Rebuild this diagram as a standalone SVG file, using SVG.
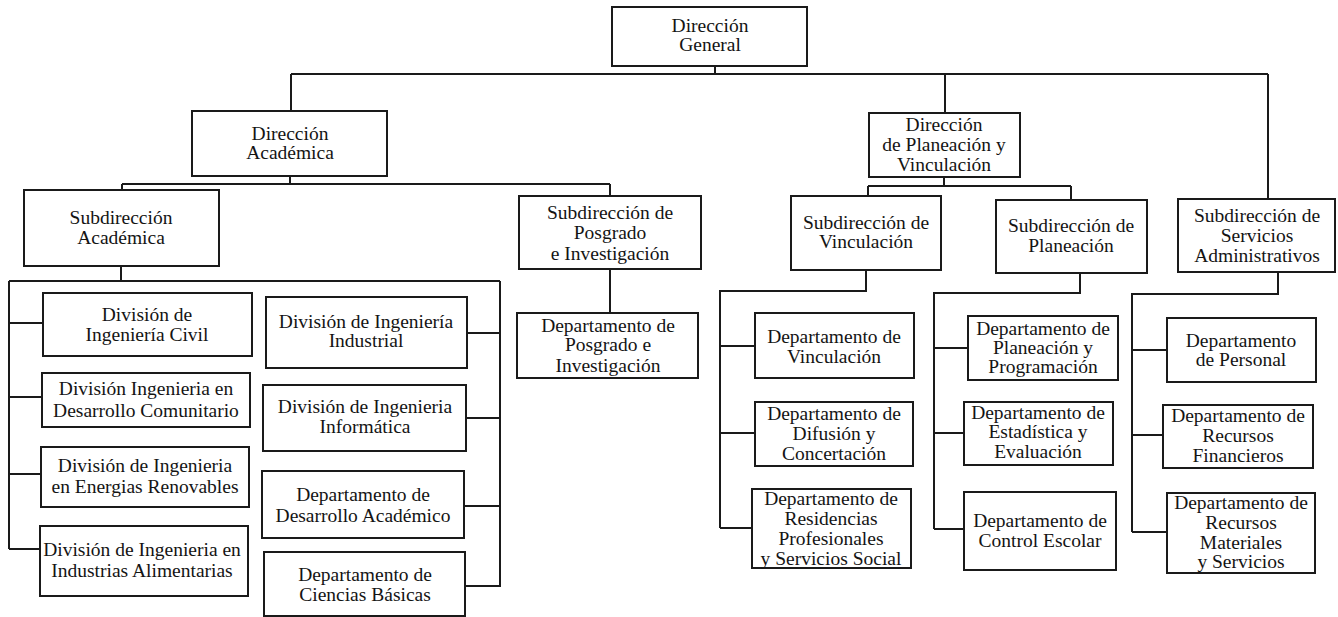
<svg xmlns="http://www.w3.org/2000/svg" width="1338" height="617" viewBox="0 0 1338 617">
<style>
  .box { fill: #ffffff; stroke: #1a1a1a; stroke-width: 2; }
  .t { font-size: 19.5px; fill: #141414; text-anchor: middle; }
  .c { fill: none; stroke: #1a1a1a; stroke-width: 2; }
</style>
<rect width="1338" height="617" fill="#ffffff"/>

<g id="connectors">
  <path class="c" d="M715,66 V74 M291,74 H1268 M291,74 V111 M945,74 V113 M1268,74 V199"/>
  <path class="c" d="M290,176 V184 M122,184 H610 M122,184 V190 M610,184 V196"/>
  <path class="c" d="M944,177 V186 M868,186 H1071 M868,186 V196 M1071,186 V200"/>
  <path class="c" d="M610,269 V313"/>
  <path class="c" d="M121,266 V281 M9,281 H500 M9,281 V549 M9,323 H43 M9,397 H42 M9,474 H41 M9,549 H40 M500,281 V587 M467,333 H500 M466,418 H500 M464,506 H500 M465,586 H500"/>
  <path class="c" d="M866,270 V291 H720 V528 M720,346 H755 M720,433 H755 M720,528 H752"/>
  <path class="c" d="M1080,273 V293 H934 V529 M934,348 H968 M934,433 H964 M934,529 H964"/>
  <path class="c" d="M1278,272 V294 H1132 V532 M1132,350 H1167 M1132,435 H1163 M1132,532 H1167"/>
</g>

<g font-family="Liberation Serif, DejaVu Serif, serif">
<g id="direccion-general">
  <rect class="box" x="612" y="7" width="195" height="59"/>
  <text class="t" x="710" y="32">Dirección</text>
  <text class="t" x="710" y="51">General</text>
</g>

<g id="direccion-academica">
  <rect class="box" x="192" y="111" width="195" height="65"/>
  <text class="t" x="290" y="140">Dirección</text>
  <text class="t" x="290" y="159">Académica</text>
</g>

<g id="direccion-planeacion-vinculacion">
  <rect class="box" x="869" y="113" width="151" height="64"/>
  <text class="t" x="944" y="131">Dirección</text>
  <text class="t" x="944" y="151">de Planeación y</text>
  <text class="t" x="944" y="171">Vinculación</text>
</g>

<g id="subdireccion-academica">
  <rect class="box" x="24" y="190" width="195" height="76"/>
  <text class="t" x="121" y="224">Subdirección</text>
  <text class="t" x="121" y="244">Académica</text>
</g>

<g id="subdireccion-posgrado">
  <rect class="box" x="519" y="196" width="182" height="73"/>
  <text class="t" x="610" y="219">Subdirección de</text>
  <text class="t" x="610" y="239">Posgrado</text>
  <text class="t" x="610" y="260">e Investigación</text>
</g>

<g id="subdireccion-vinculacion">
  <rect class="box" x="791" y="196" width="150" height="74"/>
  <text class="t" x="866" y="229">Subdirección de</text>
  <text class="t" x="866" y="248">Vinculación</text>
</g>

<g id="subdireccion-planeacion">
  <rect class="box" x="996" y="200" width="151" height="73"/>
  <text class="t" x="1071" y="232">Subdirección de</text>
  <text class="t" x="1071" y="252">Planeación</text>
</g>

<g id="subdireccion-servicios">
  <rect class="box" x="1178" y="199" width="157" height="73"/>
  <text class="t" x="1257" y="222">Subdirección de</text>
  <text class="t" x="1257" y="242">Servicios</text>
  <text class="t" x="1257" y="262">Administrativos</text>
</g>

<g id="depto-posgrado">
  <rect class="box" x="517" y="313" width="181" height="65"/>
  <text class="t" x="608" y="332">Departamento de</text>
  <text class="t" x="608" y="351">Posgrado e</text>
  <text class="t" x="608" y="372">Investigación</text>
</g>

<g id="div-civil">
  <rect class="box" x="43" y="293" width="209" height="63"/>
  <text class="t" x="147" y="321">División de</text>
  <text class="t" x="147" y="341">Ingeniería Civil</text>
</g>

<g id="div-comunitario">
  <rect class="box" x="42" y="373" width="208" height="54"/>
  <text class="t" x="146" y="395">División Ingenieria en</text>
  <text class="t" x="146" y="417">Desarrollo Comunitario</text>
</g>

<g id="div-renovables">
  <rect class="box" x="41" y="447" width="208" height="60"/>
  <text class="t" x="145" y="472">División de Ingenieria</text>
  <text class="t" x="145" y="493">en Energias Renovables</text>
</g>

<g id="div-alimentarias">
  <rect class="box" x="40" y="526" width="208" height="70"/>
  <text class="t" x="142" y="556">División de Ingenieria en</text>
  <text class="t" x="142" y="577">Industrias Alimentarias</text>
</g>

<g id="div-industrial">
  <rect class="box" x="266" y="297" width="201" height="71"/>
  <text class="t" x="366" y="328">División de Ingeniería</text>
  <text class="t" x="366" y="347">Industrial</text>
</g>

<g id="div-informatica">
  <rect class="box" x="263" y="385" width="203" height="66"/>
  <text class="t" x="365" y="413">División de Ingenieria</text>
  <text class="t" x="365" y="433">Informática</text>
</g>

<g id="depto-desarrollo-academico">
  <rect class="box" x="262" y="471" width="202" height="67"/>
  <text class="t" x="363" y="501">Departamento de</text>
  <text class="t" x="363" y="522">Desarrollo Académico</text>
</g>

<g id="depto-ciencias-basicas">
  <rect class="box" x="264" y="552" width="201" height="64"/>
  <text class="t" x="365" y="581">Departamento de</text>
  <text class="t" x="365" y="601">Ciencias Básicas</text>
</g>

<g id="depto-vinculacion">
  <rect class="box" x="755" y="313" width="159" height="65"/>
  <text class="t" x="834" y="343">Departamento de</text>
  <text class="t" x="834" y="363">Vinculación</text>
</g>

<g id="depto-difusion">
  <rect class="box" x="755" y="402" width="158" height="64"/>
  <text class="t" x="834" y="420">Departamento de</text>
  <text class="t" x="834" y="440">Difusión y</text>
  <text class="t" x="834" y="460">Concertación</text>
</g>

<g id="depto-residencias">
  <rect class="box" x="752" y="489" width="159" height="79"/>
  <text class="t" x="831" y="505">Departamento de</text>
  <text class="t" x="831" y="525">Residencias</text>
  <text class="t" x="831" y="545">Profesionales</text>
  <text class="t" x="831" y="565">y Servicios Social</text>
</g>

<g id="depto-planeacion">
  <rect class="box" x="968" y="316" width="150" height="64"/>
  <text class="t" x="1043" y="335">Departamento de</text>
  <text class="t" x="1043" y="354">Planeación y</text>
  <text class="t" x="1043" y="373">Programación</text>
</g>

<g id="depto-estadistica">
  <rect class="box" x="964" y="402" width="149" height="63"/>
  <text class="t" x="1038" y="419">Departamento de</text>
  <text class="t" x="1038" y="438">Estadística y</text>
  <text class="t" x="1038" y="458">Evaluación</text>
</g>

<g id="depto-control-escolar">
  <rect class="box" x="964" y="492" width="152" height="78"/>
  <text class="t" x="1040" y="527">Departamento de</text>
  <text class="t" x="1040" y="547">Control Escolar</text>
</g>

<g id="depto-personal">
  <rect class="box" x="1167" y="318" width="149" height="64"/>
  <text class="t" x="1241" y="347">Departamento</text>
  <text class="t" x="1241" y="366">de Personal</text>
</g>

<g id="depto-financieros">
  <rect class="box" x="1163" y="405" width="150" height="63"/>
  <text class="t" x="1238" y="422">Departamento de</text>
  <text class="t" x="1238" y="442">Recursos</text>
  <text class="t" x="1238" y="462">Financieros</text>
</g>

<g id="depto-materiales">
  <rect class="box" x="1167" y="493" width="148" height="80"/>
  <text class="t" x="1241" y="509">Departamento de</text>
  <text class="t" x="1241" y="529">Recursos</text>
  <text class="t" x="1241" y="549">Materiales</text>
  <text class="t" x="1241" y="568">y Servicios</text>
</g>
</g>
</svg>
